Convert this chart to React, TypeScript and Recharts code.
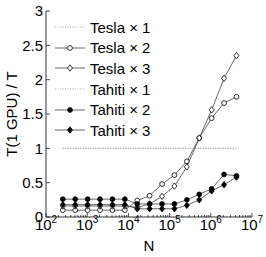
import React from "react";
import { LineChart, Line, XAxis, YAxis, Legend } from "recharts";

const FONT = '"Liberation Sans", Arial, sans-serif';

// problem size N (2^8 .. 2^22)
const nValues = [
  256, 512, 1024, 2048, 4096, 8192, 16384, 32768, 65536, 131072, 262144,
  524288, 1048576, 2097152, 4194304,
];

const tesla1 = [1, 1, 1, 1, 1, 1, 1, 1, 1, 1, 1, 1, 1, 1, 1];
const tesla2 = [0.1, 0.1, 0.1, 0.1, 0.1, 0.1, 0.24, 0.31, 0.48, 0.61, 0.81, 1.15, 1.44, 1.66, 1.75];
const tesla3 = [0.16, 0.16, 0.16, 0.16, 0.16, 0.16, 0.14, 0.19, 0.3, 0.45, 0.73, 1.15, 1.56, 2.02, 2.35];
const tahiti1 = [1, 1, 1, 1, 1, 1, 1, 1, 1, 1, 1, 1, 1, 1, 1];
const tahiti2 = [0.26, 0.26, 0.26, 0.26, 0.26, 0.26, 0.19, 0.19, 0.19, 0.19, 0.25, 0.33, 0.41, 0.62, 0.6];
const tahiti3 = [0.18, 0.18, 0.18, 0.18, 0.18, 0.18, 0.12, 0.12, 0.12, 0.12, 0.17, 0.25, 0.38, 0.47, 0.58];

const xMajorTicks = [100, 1000, 10000, 100000, 1000000, 10000000];
const yTicks = [0, 0.5, 1, 1.5, 2, 2.5, 3];

const xTicks: number[] = [];
xMajorTicks.forEach((d, i) => {
  xTicks.push(d);
  if (i < xMajorTicks.length - 1) {
    for (let k = 2; k < 10; k++) xTicks.push(k * d);
  }
});

type Shape = "none" | "circle" | "diamond";

const series: { key: string; name: string; shape: Shape; filled: boolean }[] = [
  { key: "tesla1", name: "Tesla \u00d7 1", shape: "none", filled: false },
  { key: "tesla2", name: "Tesla \u00d7 2", shape: "circle", filled: false },
  { key: "tesla3", name: "Tesla \u00d7 3", shape: "diamond", filled: false },
  { key: "tahiti1", name: "Tahiti \u00d7 1", shape: "none", filled: true },
  { key: "tahiti2", name: "Tahiti \u00d7 2", shape: "circle", filled: true },
  { key: "tahiti3", name: "Tahiti \u00d7 3", shape: "diamond", filled: true },
];

const data = nValues.map((n, i) => ({
  n,
  tesla1: tesla1[i],
  tesla2: tesla2[i],
  tesla3: tesla3[i],
  tahiti1: tahiti1[i],
  tahiti2: tahiti2[i],
  tahiti3: tahiti3[i],
}));

const LINE = "#444";

const Marker = ({ cx, cy, shape, filled }: { cx: number; cy: number; shape: Shape; filled: boolean }) => {
  const fill = filled ? "#000" : "#fff";
  if (shape === "circle")
    return <circle cx={cx} cy={cy} r={2.4} fill={fill} stroke="#000" strokeWidth={0.8} />;
  if (shape === "diamond")
    return (
      <path
        d={`M${cx},${cy - 3.2}L${cx + 2.5},${cy}L${cx},${cy + 3.2}L${cx - 2.5},${cy}Z`}
        fill={fill}
        stroke="#000"
        strokeWidth={0.8}
      />
    );
  return null;
};

const BottomTick = ({ x, y, payload }: any) => {
  const v = payload.value;
  const major = xMajorTicks.includes(v);
  return (
    <g>
      <line x1={x} x2={x} y1={y} y2={y - (major ? 4 : 2)} stroke="#000" strokeWidth={0.7} />
      {major && (
        <text x={x} y={y + 13} textAnchor="middle" fontFamily={FONT} fontSize={15} fill="#000">
          <tspan>10</tspan>
          <tspan dy={-7} fontSize={10}>{Math.round(Math.log10(v))}</tspan>
        </text>
      )}
    </g>
  );
};

const TopTick = ({ x, y, payload }: any) => {
  const major = xMajorTicks.includes(payload.value);
  return <line x1={x} x2={x} y1={y} y2={y + (major ? 4 : 2)} stroke="#000" strokeWidth={0.7} />;
};

const LeftTick = ({ x, y, payload }: any) => (
  <g>
    <line x1={x} x2={x + 4} y1={y} y2={y} stroke="#000" strokeWidth={0.7} />
    <text x={x - 3} y={y + 5.2} textAnchor="end" fontFamily={FONT} fontSize={15} fill="#000">
      {String(payload.value)}
    </text>
  </g>
);

const RightTick = ({ x, y }: any) => (
  <line x1={x} x2={x - 4} y1={y} y2={y} stroke="#000" strokeWidth={0.7} />
);

const YLabel = ({ viewBox }: any) => {
  const cx = viewBox.x + 12;
  const cy = viewBox.y + viewBox.height / 2;
  return (
    <text
      x={cx}
      y={cy + 5}
      transform={`rotate(-90 ${cx} ${cy})`}
      textAnchor="middle"
      fontFamily={FONT}
      fontSize={15}
      fill="#000"
    >
      T(1 GPU) / T
    </text>
  );
};

const XLabel = ({ viewBox }: any) => (
  <text
    x={viewBox.x + viewBox.width / 2}
    y={viewBox.y + 34}
    textAnchor="middle"
    fontFamily={FONT}
    fontSize={15}
    fill="#000"
  >
    N
  </text>
);

const LegendBox = () => (
  <div style={{ fontFamily: FONT, fontSize: 15, color: "#000" }}>
    {series.map((s) => (
      <div key={s.key} style={{ display: "flex", alignItems: "center", height: 20.6 }}>
        <svg width={32} height={10} style={{ marginRight: 3 }}>
          <line
            x1={0}
            x2={30}
            y1={5}
            y2={5}
            stroke={s.shape === "none" ? "#aaa" : LINE}
            strokeWidth={s.shape === "none" ? 1 : 0.8}
            strokeDasharray={s.shape === "none" ? "1 1.5" : undefined}
          />
          <Marker cx={15} cy={5} shape={s.shape} filled={s.filled} />
        </svg>
        <span style={{ whiteSpace: "nowrap" }}>{s.name}</span>
      </div>
    ))}
  </div>
);

export default function App() {
  return (
    <div style={{ position: "absolute", left: 0, top: 0 }}>
      <LineChart width={266} height={257} data={data} margin={{ top: 11, right: 14, left: 0, bottom: 0 }}>
        <XAxis
          xAxisId="main"
          dataKey="n"
          type="number"
          scale="log"
          domain={[100, 10000000]}
          allowDataOverflow
          ticks={xTicks}
          interval={0}
          tick={<BottomTick />}
          tickLine={false}
          tickSize={0}
          tickMargin={0}
          height={40}
          axisLine={{ stroke: "#000", strokeWidth: 0.8 }}
          label={<XLabel />}
        />
        <XAxis
          xAxisId="top"
          orientation="top"
          dataKey="n"
          type="number"
          scale="log"
          domain={[100, 10000000]}
          allowDataOverflow
          ticks={xTicks}
          interval={0}
          tick={<TopTick />}
          tickLine={false}
          tickSize={0}
          tickMargin={0}
          height={0}
          axisLine={{ stroke: "#000", strokeWidth: 0.8 }}
        />
        <YAxis
          yAxisId="main"
          type="number"
          domain={[0, 3]}
          ticks={yTicks}
          interval={0}
          tick={<LeftTick />}
          tickLine={false}
          tickSize={0}
          tickMargin={0}
          width={46}
          axisLine={{ stroke: "#000", strokeWidth: 0.8 }}
          label={<YLabel />}
        />
        <YAxis
          yAxisId="right"
          orientation="right"
          type="number"
          domain={[0, 3]}
          ticks={yTicks}
          interval={0}
          tick={<RightTick />}
          tickLine={false}
          tickSize={0}
          tickMargin={0}
          width={0}
          axisLine={{ stroke: "#000", strokeWidth: 0.8 }}
        />
        <Legend
          layout="horizontal"
          verticalAlign="middle"
          align="center"
          content={<LegendBox />}
          wrapperStyle={{ left: 55, top: 17, width: "auto", height: "auto" }}
        />
        {series.map((s) => (
          <Line
            key={s.key}
            xAxisId="main"
            yAxisId="main"
            type="linear"
            dataKey={s.key}
            name={s.name}
            stroke={s.shape === "none" ? "#aaa" : LINE}
            strokeWidth={s.shape === "none" ? 1 : 0.8}
            strokeDasharray={s.shape === "none" ? "1 1.5" : undefined}
            isAnimationActive={false}
            activeDot={false}
            dot={(p: any) => (
              <g key={`${s.key}-${p.index}`}>
                <Marker cx={p.cx} cy={p.cy} shape={s.shape} filled={s.filled} />
              </g>
            )}
          />
        ))}
      </LineChart>
    </div>
  );
}
